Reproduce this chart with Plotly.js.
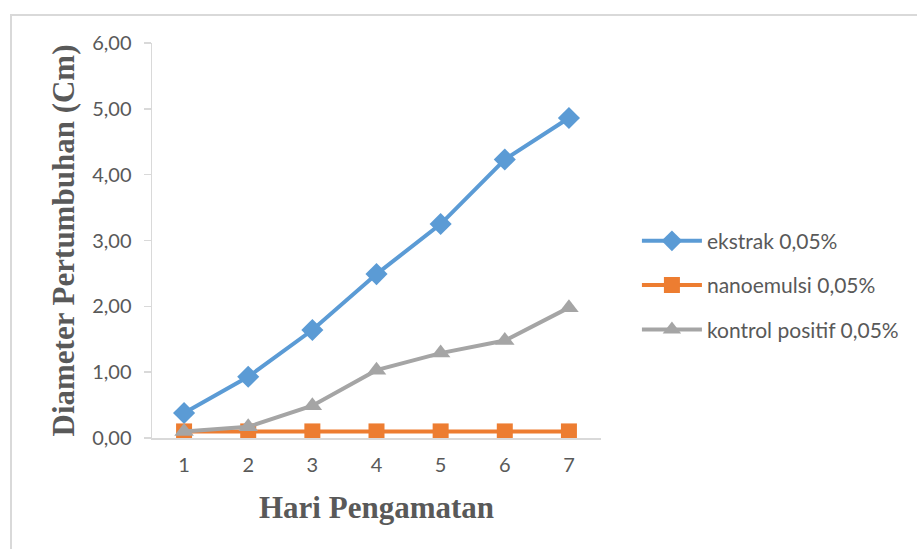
<!DOCTYPE html>
<html>
<head>
<meta charset="utf-8">
<script src="https://cdn.plot.ly/plotly-3.0.1.min.js"></script>
<style>
html,body{margin:0;padding:0;background:#fff;}
#frame{position:absolute;left:10px;top:14px;width:1000px;height:600px;border-left:2px solid #d9d9d9;border-top:2px solid #d9d9d9;}
#chart{position:absolute;left:0;top:0;width:917px;height:549px;}
</style>
</head>
<body>
<div id="frame"></div>
<div id="chart"></div>
<script>
const days = [1, 2, 3, 4, 5, 6, 7];
const ekstrak = [0.38, 0.93, 1.64, 2.49, 3.25, 4.23, 4.86];
const nanoemulsi = [0.10, 0.10, 0.10, 0.10, 0.10, 0.10, 0.10];
const kontrol = [0.10, 0.17, 0.49, 1.03, 1.29, 1.48, 1.98];
const seriesNames = ['ekstrak 0,05%', 'nanoemulsi 0,05%', 'kontrol positif 0,05%'];
const yTicks = [0, 1, 2, 3, 4, 5, 6];

const traces = [
  {x: days, y: ekstrak, name: seriesNames[0], legendgroup: 'a', mode: 'lines+markers', type: 'scatter',
   line: {color: '#5b9bd5', width: 4}, marker: {symbol: 'diamond', size: 17, color: '#5b9bd5'}},
  {x: days, y: nanoemulsi, name: seriesNames[1], legendgroup: 'b', mode: 'lines+markers', type: 'scatter',
   line: {color: '#ed7d31', width: 4}, marker: {symbol: 'square', size: 16, color: '#ed7d31'}},
  {x: days, y: kontrol, name: seriesNames[2], legendgroup: 'c', mode: 'lines+markers', type: 'scatter',
   line: {color: '#a5a5a5', width: 4}, marker: {symbol: 'triangle-up', size: 17, color: '#a5a5a5'}}
];

const layout = {
  width: 917, height: 549,
  paper_bgcolor: 'rgba(0,0,0,0)', plot_bgcolor: 'rgba(0,0,0,0)',
  separators: ',.',
  margin: {l: 152, r: 316, t: 43, b: 111},
  font: {family: 'Lato, "Open Sans", sans-serif', color: '#595959', size: 20},
  xaxis: {
    range: [0.5, 7.5], tickvals: days, ticktext: days.map(String),
    showgrid: false, zeroline: false, showline: true, linecolor: '#d9d9d9', linewidth: 1.5,
    ticks: '', ticklen: 0, ticklabelstandoff: 8,
    tickfont: {size: 20, color: '#595959'},
    title: {text: 'Hari Pengamatan', standoff: 22,
      font: {family: '"Liberation Serif", "Times New Roman", serif', size: 31, color: '#595959', weight: 'bold'}}
  },
  yaxis: {
    range: [0, 6], tickvals: yTicks, tickformat: '.2f',
    showgrid: false, zeroline: false, showline: true, linecolor: '#d9d9d9', linewidth: 1.5,
    ticks: 'outside', ticklen: 7, tickcolor: '#d9d9d9', tickwidth: 1.5, ticklabelstandoff: 8,
    tickfont: {size: 20, color: '#595959'},
    title: {text: 'Diameter Pertumbuhan (Cm)', standoff: 8,
      font: {family: '"Liberation Serif", "Times New Roman", serif', size: 31, color: '#595959', weight: 'bold'}}
  },
  showlegend: true,
  legend: {x: 1.08, y: 0.387, yanchor: 'middle', xanchor: 'left',
    font: {size: 21, color: '#595959'}, tracegroupgap: 14, itemwidth: 60,
    bgcolor: 'rgba(0,0,0,0)'}
};

Plotly.newPlot('chart', traces, layout, {displayModeBar: false, staticPlot: true});
</script>
</body>
</html>
